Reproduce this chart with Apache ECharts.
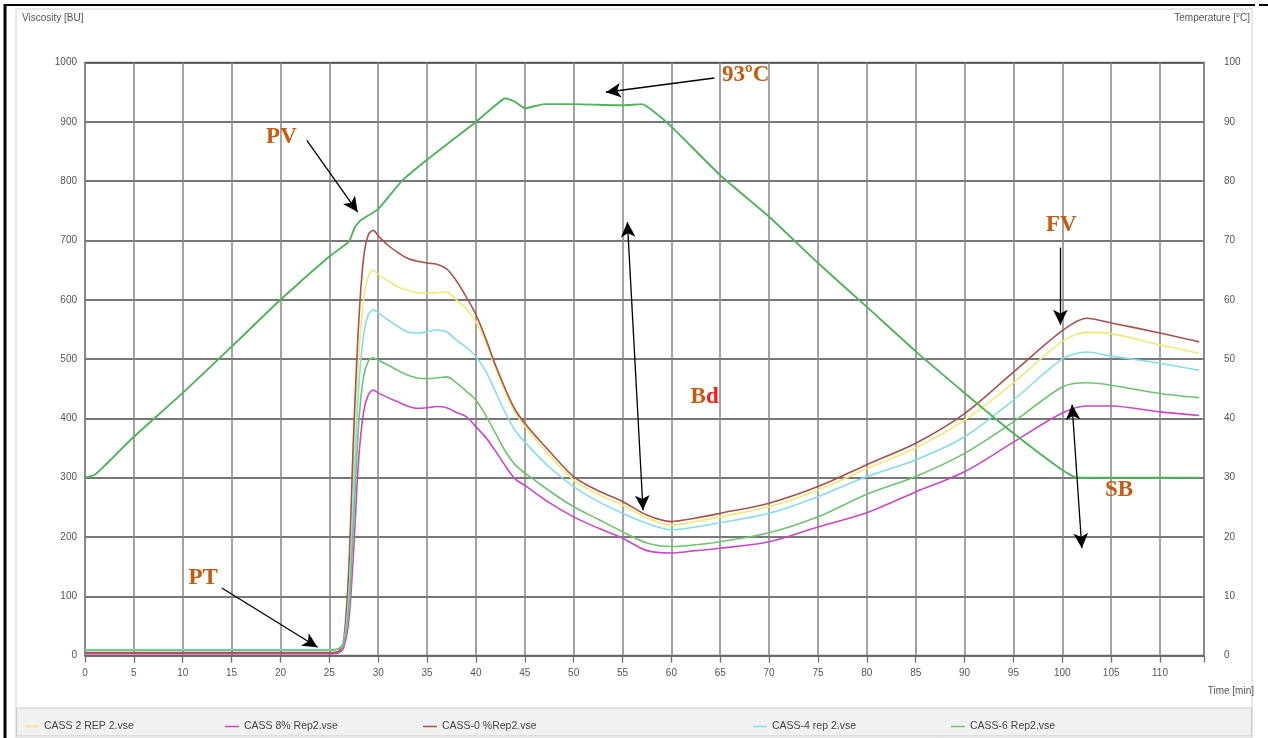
<!DOCTYPE html>
<html>
<head>
<meta charset="utf-8">
<script src="https://cdn.jsdelivr.net/npm/echarts@6/dist/echarts.min.js"></script>
<style>
  html, body { margin: 0; padding: 0; background: #fff; }
  #amyloChart { width: 1268px; height: 738px; }
</style>
</head>
<body>
<div id="amyloChart"></div>
<script>
    // time axis (min) shared by the viscosity curves
    const times = [0, 5, 10, 15, 20, 25, 26, 26.5, 27, 27.5, 28, 28.5, 29, 29.5, 30, 31, 32, 33, 34, 35, 36, 37, 38, 39, 40,
        41, 42, 43, 44, 45, 47.5, 50, 52.5, 55, 57.5, 60, 62.5, 65, 70, 75, 80, 85, 90, 95, 100, 102.5, 105, 110, 114]

    // viscosity [BU]
    const cass2 = [3, 3, 4, 4, 4, 4, 5, 20, 120, 330, 500, 600, 640, 650, 643, 632, 622, 616, 612, 611, 612, 613, 600, 585, 563,
        530, 485, 445, 410, 387, 338, 296, 272, 254, 232, 220, 226, 234, 251, 279, 315, 350, 397, 460, 530, 545, 543, 524, 510]
    const cass8 = [3, 3, 3, 3, 3, 3, 5, 15, 60, 180, 330, 410, 440, 448, 443, 435, 428, 421, 417, 418, 420, 418, 410, 403, 386,
        368, 345, 320, 298, 287, 258, 234, 215, 198, 177, 173, 177, 181, 192, 217, 241, 276, 310, 360, 409, 421, 421, 411, 405]
    const cass0 = [5, 5, 5, 5, 5, 5, 8, 30, 150, 380, 560, 670, 710, 717, 708, 692, 680, 670, 665, 662, 660, 652, 632, 605, 575,
        535, 490, 450, 415, 392, 345, 302, 278, 260, 237, 226, 232, 240, 257, 285, 322, 358, 408, 478, 548, 569, 561, 544, 529]
    const cass4 = [10, 10, 10, 10, 10, 10, 12, 25, 100, 280, 450, 540, 575, 583, 578, 566, 555, 546, 544, 546, 549, 546, 532, 520, 504,
        480, 445, 410, 380, 360, 318, 285, 260, 240, 223, 212, 217, 224, 240, 268, 302, 330, 369, 431, 500, 512, 505, 493, 481]
    const cass6 = [9, 9, 9, 9, 9, 9, 12, 22, 80, 230, 390, 470, 497, 502, 498, 490, 481, 473, 468, 467, 468, 470, 460, 446, 431,
        405, 375, 345, 322, 308, 278, 251, 230, 209, 190, 184, 187, 192, 207, 234, 272, 302, 341, 394, 453, 460, 456, 442, 435]

    // temperature profile [°C]
    const tempTimes = [0, 1, 2, 5, 10, 15, 20, 25, 27, 27.6, 28.2, 30, 32.4, 35, 40, 42, 43, 44, 45, 47, 50, 55, 57, 58,
        60, 65, 70, 75, 80, 85, 90, 95, 100, 101.5, 105, 110, 114]
    const temps = [30, 30.5, 32, 36.9, 44.3, 52.1, 60, 67.3, 69.8, 72.2, 73.4, 75.3, 80, 83.6, 90, 92.8, 94, 93.4, 92.3, 93, 93, 92.8, 93, 92,
        89.2, 81, 74, 66.2, 58.8, 51.3, 44.3, 37.5, 31.3, 30, 30, 30, 30]

    const legendNames = ['CASS 2 REP 2.vse', 'CASS 8% Rep2.vse', 'CASS-0 %Rep2.vse', 'CASS-4 rep 2.vse', 'CASS-6 Rep2.vse']
    const legendLeft = [20, 220, 418, 748, 946]
    const colors = ['#eee97a', '#c848c8', '#a8524c', '#86dcea', '#6cc46c']
    const curves = [cass2, cass8, cass0, cass4, cass6]

    // annotation arrows in data units [time, BU]
    const arrows = [
        {from: [22.7, 869], to: [27.9, 748], both: false},
        {from: [64.4, 974], to: [53.3, 950], both: false},
        {from: [55.5, 731], to: [57.1, 245], both: true},
        {from: [99.8, 688], to: [99.8, 558], both: false},
        {from: [101.0, 423], to: [102.0, 181], both: true},
        {from: [14.0, 114], to: [23.8, 14], both: false}
    ]
    const notes = [
        {at: [20.1, 874], text: 'PV'},
        {at: [67.6, 979], text: '93ºC'},
        {at: [63.4, 436], text: '{b|B}{d|d}'},
        {at: [99.9, 726], text: 'FV'},
        {at: [105.8, 279], text: 'SB'},
        {at: [12.1, 131], text: 'PT'}
    ]

    const narrow = "'Liberation Sans Narrow', 'Liberation Sans', Arial, sans-serif"
    const noteFont = {fontFamily: "'Liberation Serif', 'Times New Roman', serif", fontWeight: 'bold', fontSize: 23, color: '#c55a11'}

    const pair = (xs, ys) => xs.map((t, i) => [t, ys[i]])

    let series = curves.map((c, i) => ({
        name: legendNames[i],
        type: 'line',
        data: pair(times, c),
        smooth: 0.3,
        showSymbol: false,
        lineStyle: {color: colors[i], width: 1.6},
        itemStyle: {color: colors[i]},
        z: 3
    }))

    series.push({
        name: 'Temperature',
        type: 'line',
        yAxisIndex: 1,
        data: pair(tempTimes, temps),
        smooth: 0.15,
        showSymbol: false,
        lineStyle: {color: '#4fb35c', width: 1.9},
        z: 4
    })

    series.push({
        name: 'notes',
        type: 'line',
        data: [],
        silent: true,
        z: 6,
        markLine: {
            silent: true,
            animation: false,
            symbolSize: [11, 15],
            label: {show: false},
            lineStyle: {color: '#000', width: 1.3, type: 'solid'},
            emphasis: {disabled: true},
            data: arrows.map(a => [
                {coord: a.from, symbol: a.both ? 'arrow' : 'none'},
                {coord: a.to, symbol: 'arrow'}
            ])
        },
        markPoint: {
            silent: true,
            animation: false,
            symbol: 'circle',
            symbolSize: 1,
            itemStyle: {color: 'rgba(0,0,0,0)'},
            label: {
                show: true,
                position: 'inside',
                ...noteFont,
                rich: {
                    b: {...noteFont},
                    d: {...noteFont, color: '#ff1a1a'}
                }
            },
            data: notes.map(n => ({coord: n.at, value: n.text, label: {formatter: n.text}}))
        }
    })

    let option = {
        animation: false,
        backgroundColor: '#fff',
        textStyle: {fontFamily: narrow},
        grid: {
            left: 85, right: 64, top: 62.6, bottom: 82.4,
            show: true,
            borderColor: '#6e6e6e',
            borderWidth: 1.5
        },
        legend: legendNames.map((n, i) => ({
            data: [n],
            left: legendLeft[i],
            top: 716,
            icon: 'rect',
            itemWidth: 14,
            itemHeight: 1.5,
            itemGap: 6,
            textStyle: {fontFamily: narrow, fontSize: 10.5, color: '#444'},
            selectedMode: false
        })),
        xAxis: {
            type: 'value',
            min: 0,
            max: 114.5,
            interval: 5,
            axisLine: {show: true, lineStyle: {color: '#6e6e6e', width: 1.5}},
            axisTick: {show: true, length: 7, lineStyle: {color: '#6e6e6e', width: 1.3}},
            axisLabel: {color: '#555', fontSize: 10, margin: 13, fontFamily: narrow,
                formatter: v => (v % 5 === 0 && v <= 110 ? String(v) : '')},
            splitLine: {show: true, lineStyle: {color: '#858585', width: 1.5, type: 'solid'}}
        },
        yAxis: [
            {
                type: 'value',
                min: 0,
                max: 1000,
                interval: 100,
                axisLine: {show: false},
                axisTick: {show: false},
                axisLabel: {color: '#555', fontSize: 10, margin: 8, fontFamily: narrow, formatter: v => String(v)},
                splitLine: {show: true, lineStyle: {color: '#4a4a4a', width: 1.5, type: 'solid'}}
            },
            {
                type: 'value',
                min: 0,
                max: 100,
                interval: 10,
                position: 'right',
                axisLine: {show: false},
                axisTick: {show: false},
                axisLabel: {color: '#555', fontSize: 10, margin: 20, fontFamily: narrow},
                splitLine: {show: false}
            }
        ],
        graphic: [
            // outer frame
            {type: 'line', shape: {x1: 4, y1: 5, x2: 1255, y2: 5}, style: {stroke: '#000', lineWidth: 2}, silent: true},
            {type: 'line', shape: {x1: 1259, y1: 5, x2: 1268, y2: 5}, style: {stroke: '#000', lineWidth: 2}, silent: true},
            {type: 'line', shape: {x1: 5, y1: 4, x2: 5, y2: 738}, style: {stroke: '#000', lineWidth: 3}, silent: true},
            {type: 'rect', shape: {x: 16, y: 9, width: 1236, height: 729}, style: {fill: 'none', stroke: '#d0d0d0', lineWidth: 1}, silent: true, z: -1},
            // legend band
            {type: 'rect', shape: {x: 16.5, y: 708, width: 1235, height: 28}, style: {fill: '#f1f1f1', stroke: '#c8c8c8', lineWidth: 1}, silent: true, z: -1},
            // axis titles
            {type: 'text', left: 22, top: 13, style: {text: 'Viscosity [BU]', fill: '#555', font: "10px 'Liberation Sans Narrow', 'Liberation Sans', sans-serif"}, silent: true},
            {type: 'text', right: 18, top: 13, style: {text: 'Temperature [°C]', fill: '#555', font: "10px 'Liberation Sans Narrow', 'Liberation Sans', sans-serif"}, silent: true},
            {type: 'text', right: 14, top: 686, style: {text: 'Time [min]', fill: '#555', font: "10px 'Liberation Sans Narrow', 'Liberation Sans', sans-serif"}, silent: true}
        ],
        series: series
    }

    let myChart = echarts.init(document.getElementById('amyloChart'))
    myChart.setOption(option)
</script>
</body>
</html>
